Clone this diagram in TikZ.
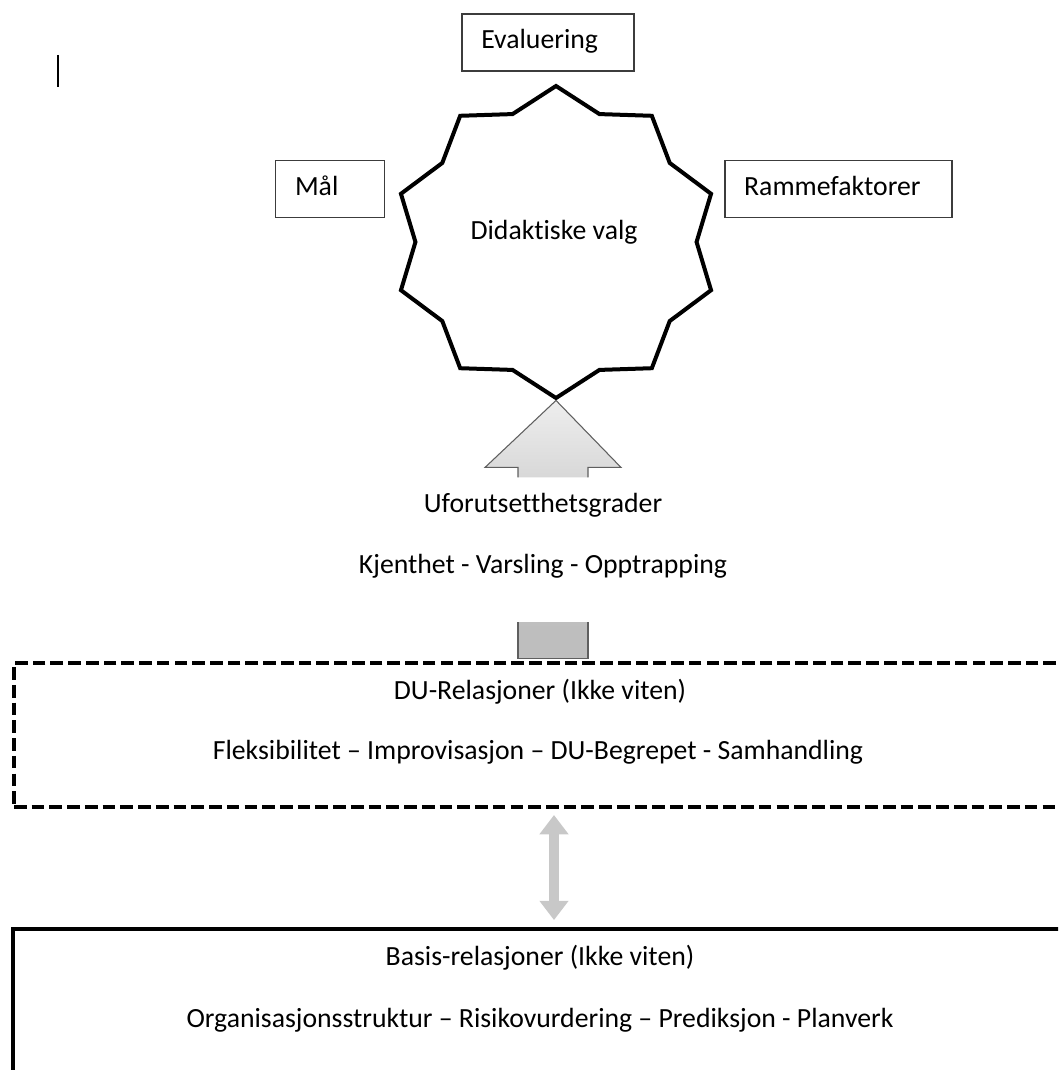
\documentclass[tikz,border=0pt]{standalone}
\usepackage{fontspec}
\setmainfont[Ligatures=NoCommon]{Carlito}
\usepackage{tikz}
\usetikzlibrary{shapes.geometric, arrows.meta, positioning, calc}
\definecolor{cFrame}{RGB}{60,60,60}
\definecolor{cArrowTop}{RGB}{238,238,238}
\definecolor{cArrowMid}{RGB}{216,216,216}
\definecolor{cArrowBot}{RGB}{190,190,190}
\definecolor{cArrowEdge}{RGB}{95,95,95}
\definecolor{cDual}{RGB}{200,200,200}
\tikzset{
	factor/.style  ={rectangle, draw=cFrame, line width=1.1pt, minimum height=42.5pt, inner xsep=14.5pt, text depth=5pt, align=left},
	didstar/.style ={star, star points=10, star point ratio=1.16, minimum size=234pt, xscale=1.045, inner sep=0pt, draw=black, line width=3pt, fill=white},
	txt/.style     ={inner sep=0pt, align=center},
	% frames along the bottom
	duframe/.style ={rectangle, draw=black, line width=3pt, dash pattern=on 9.5pt off 3.8pt, minimum width=789pt, minimum height=108pt},
	baseframe/.style={rectangle, draw=black, line width=3pt, minimum width=790pt, minimum height=128pt},
	blockarrow/.style={draw=cArrowEdge, line width=0.8pt, top color=cArrowTop, bottom color=cArrowMid},
	dualarrow/.style={{Triangle[width=21pt,length=14.5pt]}-{Triangle[width=21pt,length=14.5pt]}, line width=8pt, cDual},
}

\begin{document}
\begin{tikzpicture}[font=\fontsize{20.8pt}{24pt}\selectfont, x=0.75pt, y=-0.75pt]
	\path[use as bounding box, clip] (0,0) rectangle (1058,1070);
	\draw[line width=2.2pt] (58,55) -- (58,87);

	\node[didstar] (star) at (556,242) {};
	\node[txt] (valg) at (554,232) {Didaktiske valg};
	\node[factor, text width=100pt] (eval) at (548,42.5) {Evaluering};
	\node[factor, text width=52.5pt] (maal) at (330,189) {Mål};
	\node[factor, text width=141.5pt] (ramme) at (838.5,189) {Rammefaktorer};

	\node[duframe] (du) at (540,735) {};
	\node[baseframe] (basis) at (540,1014.5) {};

	\path[blockarrow] (star.south) ++(-38,77) -- ++(0,-10) -- ++(-33,0) -- (star.south) -- ++(65,67) -- ++(-33,0) -- ++(0,10);
	\path[blockarrow, top color=cArrowBot!94!white, bottom color=cArrowBot] (star.south) ++(-38,222) -- ++(0,36) -- ++(70,0) -- ++(0,-36);

	\node[txt] (grader) at (543,505) {Uforutsetthetsgrader};
	\node[txt] (kjent) at (543,566) {Kjenthet - Varsling - Opptrapping};

	\node[txt] (durel) at (540,692) {DU-Relasjoner (Ikke viten)};
	\node[txt] (fleks) at (538,752) {Fleksibilitet – Improvisasjon – DU-Begrepet - Samhandling};

	\draw[dualarrow, shorten <=4.5pt, shorten >=5.3pt] ([xshift=10.5pt]du.south) -- ([xshift=10.5pt]basis.north);

	\node[txt] (basrel) at (540,958) {Basis-relasjoner (Ikke viten)};
	\node[txt] (org) at (540,1020) {Organisasjonsstruktur – Risikovurdering – Prediksjon - Planverk};
\end{tikzpicture}
\end{document}
